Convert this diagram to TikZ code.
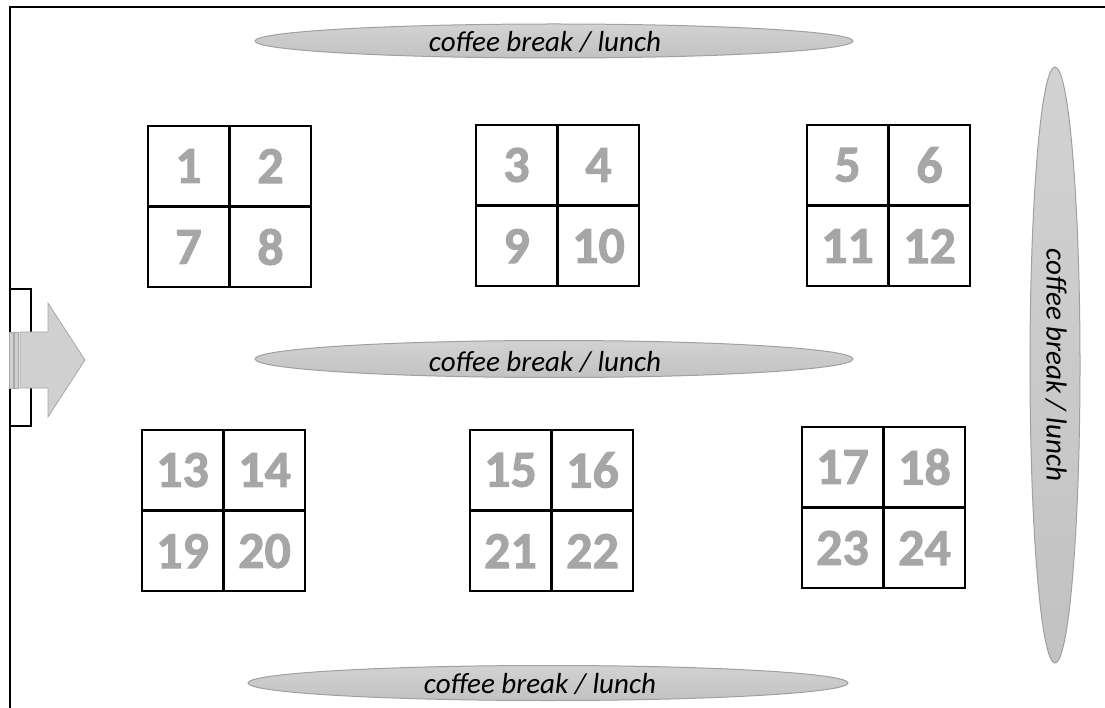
\documentclass[tikz,border=0pt]{standalone}
\usepackage{fontspec}
\setmainfont{Carlito}[BoldFont={Carlito Bold}, ItalicFont={Carlito Italic}]
\newfontfamily\numfont{Carlito Bold}[FakeBold=1.8]
\usetikzlibrary{shapes.geometric}
\definecolor{numgray}{HTML}{A6A6A6}
\definecolor{elltop}{HTML}{D2D2D2}
\definecolor{ellbot}{HTML}{C2C2C2}
\definecolor{ellline}{HTML}{A0A0A0}
\definecolor{arrfill}{HTML}{D0D0D0}
\definecolor{arrline}{HTML}{A8A8A8}
\tikzset{
  cell/.style={draw=black, line width=2.2pt, minimum width=81pt, minimum height=80pt, inner sep=0pt, outer sep=0pt, anchor=north west, text=numgray, font=\numfont\fontsize{52}{52}\selectfont},
  break/.style={ellipse, draw=ellline, line width=1pt, top color=elltop, bottom color=ellbot, inner sep=0pt},
  breaktext/.style={font=\fontsize{29}{29}\selectfont\itshape, inner sep=0pt},
  arrowshape/.style={fill=arrfill, draw=arrline, line width=0.8pt},
}
\newcommand\tablegroup[6]{%
  \node[cell] (c#3) at (#1,#2) {#3};
  \node[cell] (c#4) at ([xshift=1pt]c#3.north east) {#4};
  \node[cell] (c#5) at ([yshift=-1pt]c#3.south west) {#5};
  \node[cell] (c#6) at ([xshift=1pt]c#5.north east) {#6};
}
\begin{document}
\begin{tikzpicture}[x=1pt,y=-1pt]
\useasboundingbox (0,0) rectangle (1105,708);
% frame
\coordinate (fbl) at (10,708);
\coordinate (ftl) at (10,7);
\coordinate (ftr) at (1105,7);
\draw[line width=2.2pt] (fbl) -- (ftl) -- (ftr);
% door
\node[draw=black, line width=2pt, minimum width=21pt, minimum height=137pt, inner sep=0pt, outer sep=0pt] (door) at (20.5,357.5) {};
% entrance arrow
\draw[arrowshape] (20,332) -- (48,332) -- (48,303) -- (85,360) -- (48,417) -- (48,388) -- (20,388) -- cycle;
\draw[arrowshape] (9,332) rectangle (13,388);
\draw[arrowshape] (14.5,332) rectangle (18.5,388);
% tables
\tablegroup{148}{126}{1}{2}{7}{8}
\tablegroup{476}{125}{3}{4}{9}{10}
\tablegroup{807}{125}{5}{6}{11}{12}
\tablegroup{142}{430}{13}{14}{19}{20}
\tablegroup{470}{430}{15}{16}{21}{22}
\tablegroup{802}{427}{17}{18}{23}{24}
% coffee break areas
\node[break, minimum width=598pt, minimum height=34pt] (b1) at (554,41) {};
\node[breaktext] (t1) at (545,42) {coffee break / lunch};
\node[break, minimum width=598pt, minimum height=37pt] (b2) at (554,359) {};
\node[breaktext] (t2) at (545,362) {coffee break / lunch};
\node[break, minimum width=600pt, minimum height=35pt] (b3) at (548,683) {};
\node[breaktext] (t3) at (540,684) {coffee break / lunch};
\node[break, minimum width=50pt, minimum height=596pt] (b4) at (1055,365) {};
\node[breaktext, rotate=-90] (t4) at (1056,365) {coffee break / lunch};
\end{tikzpicture}
\end{document}
